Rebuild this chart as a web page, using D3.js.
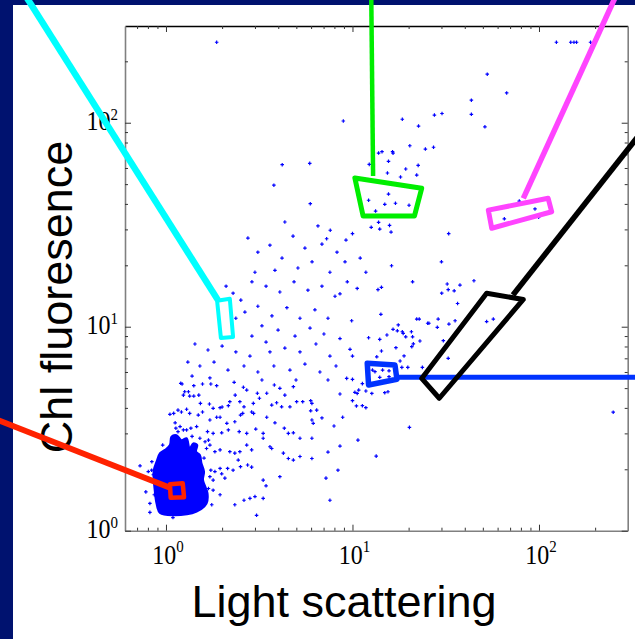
<!DOCTYPE html>
<html>
<head>
<meta charset="utf-8">
<script src="https://cdn.jsdelivr.net/npm/d3@7"></script>
<style>
  html, body { margin: 0; padding: 0; background: #00126f; }
  svg { display: block; }
</style>
</head>
<body>
<svg id="chart"></svg>
<script>
var width = 635, height = 639;

// dense core of the population (outline), [light scattering, chl fluoresence]
var coreOutline = [
  [0.929,1.22],[1.09,1.19],[1.46,1.24],[1.65,1.36],[1.67,1.53],[1.58,1.77],[1.60,1.95],
  [1.55,2.14],[1.52,2.35],[1.45,2.44],[1.47,2.63],[1.40,2.68],[1.34,2.53],[1.29,2.84],
  [1.21,2.78],[1.14,2.94],[1.07,2.89],[1.05,2.63],[0.988,2.49],[0.929,2.40],[0.89,2.18],
  [0.86,1.98],[0.86,1.77],[0.87,1.58],[0.89,1.36]
];

// single events, [light scattering, chl fluoresence]
var scatterPoints = [
  [1.87,248],[124,248],[148,248],[154,248],[159,248],[189,248],
  [52.8,173],[67.1,140],[43.4,129],[43.4,110],[51.3,95.5],[30.2,111],[27.5,109],[18.5,104],[8.93,102],[22.6,96.3],
  [20.3,77.1],[24.6,74.3],[27.2,75.8],[13.8,71.0],[14.4,72.1],[16.4,72.1],[16.5,70.9],[15.6,64.7],[12.3,62.5],
  [22.5,61.8],[19.3,59.3],[15.4,56.7],[18.1,54.2],[22.1,55.4],
  [15.6,44.7],[12.2,41.7],[14.9,39.8],[17.0,40.3],[20.1,39.4],[13.3,36.9],
  [13.8,32.5],[12.6,30.7],[14.0,30.1],[15.8,31.4],[16.1,29.1],[7.60,29.7],[10.0,28.6],[32.8,28.6],[7.27,27.0],[9.23,26.6],
  [78.4,41.3],[95.2,37.8],[65.2,33.8],[99.6,34.4],
  [4.20,62.3],[3.79,49.4],[5.90,63.2],[5.94,40.1],
  [9.38,16.6],[10.6,15.4],[13.7,15.2],[14.3,15.6],[21.0,16.6],[32.2,16.2],[32.6,15.2],[35.1,15.0],[37.7,16.0],
  [30.1,14.6],[44.8,16.8],[8.57,14.5],[36.6,13.0],[14.2,11.5],[9.90,10.7],[22.1,10.9],[22.8,10.9],[25.3,10.4],
  [25.7,10.4],[28.8,10.9],[32.9,10.3],[35.5,10.7],[52.4,10.6],[56.9,10.9],[17.6,10.2],[16.5,9.71],[18.5,9.45],
  [18.7,9.27],[17.4,9.55],[20.7,9.45],[28.5,9.93],[15.3,9.11],[12.2,8.83],[14.0,8.67],[19.3,8.92],[21.0,8.92],
  [8.57,8.75],[23.0,8.51],[20.8,7.98],[21.2,8.24],[9.70,7.75],[17.1,7.89],[14.3,7.60],[30.7,8.54],[10.0,7.18],
  [13.5,7.12],[18.9,7.19],[32.6,7.00],[18.0,6.79],[18.4,6.32],[19.8,6.32],[23.7,6.32],
  [12.8,6.13],[14.5,6.13],[15.7,6.08],[13.2,6.02],[14.0,5.65],[15.7,5.69],[9.31,5.58],[10.0,5.52],[11.3,5.26],
  [10.8,4.89],[10.3,4.77],[10.6,4.71],[11.8,4.84],[12.7,4.71],[14.9,4.75],[15.5,4.80],[8.57,4.68],[10.0,4.34],
  [10.5,4.09],[11.3,4.10],[11.8,4.01],[8.86,3.60],[20.2,3.21],[250,3.81],
  [1.20,5.28],[1.22,5.24],[1.41,5.14],[1.57,5.24],[1.74,5.24],[1.87,5.14],[2.32,5.34],[2.60,5.05],[2.71,4.89],
  [3.09,4.72],[3.47,4.72],[3.81,5.18],[4.08,4.99],[4.34,4.62],[4.82,5.08],[5.97,4.34],[6.06,4.21],[6.43,3.90],
  [1.26,4.80],[1.32,4.80],[1.24,4.62],[1.34,4.57],[1.41,4.57],[1.50,4.62],[1.53,4.21],[1.71,4.18],[1.79,3.98],
  [1.95,4.01],[2.00,4.04],[2.16,4.10],[2.20,4.29],[2.35,4.62],[2.49,4.29],[2.62,4.05],[2.94,4.21],[3.17,4.46],
  [3.69,4.13],[3.92,4.24],[4.62,4.05],[5.02,4.29],[5.41,4.29],[5.97,3.87],
  [1.05,3.72],[1.10,3.76],[1.16,3.90],[1.21,3.82],[1.29,3.94],[1.34,3.76],[1.49,3.69],[1.57,3.82],[1.72,3.49],
  [1.87,3.60],[1.95,3.60],[2.12,3.36],[2.34,3.42],[2.51,3.69],[2.58,3.76],[2.88,3.82],[2.95,3.76],[3.47,3.60],
  [3.84,3.38],[4.31,3.18],[4.53,3.00],[4.82,3.02],[6.06,3.49],[5.23,2.84],
  [1.12,3.38],[1.19,3.24],[1.24,3.12],[1.29,3.12],[1.36,3.18],[1.46,3.24],[1.16,3.06],[1.67,3.06],[1.79,3.00],
  [1.99,3.02],[2.16,3.12],[2.47,3.06],[2.71,3.00],[3.03,3.15],[3.32,3.00],[3.32,2.84],[3.61,2.58],[3.69,2.53],
  [1.52,2.84],[1.62,2.73],[1.69,2.78],[1.72,2.63],[1.65,2.53],[1.83,2.44],[1.95,2.49],[2.20,2.44],[2.34,2.40],
  [2.49,2.44],[2.71,2.63],[2.88,2.49],[2.44,2.22],[2.74,2.10],[2.51,2.06],[2.88,2.05],[2.29,1.98],[1.95,2.02],
  [1.83,1.95],[2.14,2.02],[1.99,1.90],[1.72,1.84],[1.79,1.77],[2.07,1.81],[1.69,1.61],[1.79,1.58],[1.95,1.50],
  [2.62,1.41],[2.82,1.44],[3.00,1.47],[3.32,1.44],[2.34,1.34],[3.06,1.19],[3.32,1.77],[3.44,1.66],[4.08,1.84],
  [4.53,2.26],[4.82,2.22],[6.06,2.26],[5.23,2.31],[4.26,2.40],[6.06,2.84],[6.16,3.36],[4.17,4.05],
  [0.726,2.08],[0.838,1.98],[0.804,1.95],[0.855,1.88],[0.884,1.58],[0.866,1.50],[1.09,1.16],[0.948,1.24],
  // ragged edge of the core
  [0.80,1.77],[0.78,1.55],[0.82,1.36],[0.84,2.18],[0.96,2.63],[1.13,3.18],[1.38,2.90],[1.60,2.27],
  [1.74,1.98],[1.76,1.34],[0.82,1.23],
  // middle of the cloud, between the core and the large cells
  [4.34,32.6],[6.53,31.2],[4.80,27.8],[3.61,25.1],[3.11,23.2],[5.56,24.3],[6.86,25.4],[8.26,23.2],[4.19,21.7],
  [2.75,27.2],[6.07,20.8],[9.12,20.8],[5.10,19.4],[3.84,18.9],[3.00,18.5],[7.57,18.5],[11.0,21.7],[11.8,18.5],
  [2.10,15.8],[2.29,14.6],[2.52,13.5],[2.89,16.6],[3.44,15.8],[4.08,14.8],[4.86,16.6],[5.77,15.1],[6.86,15.8],
  [8.06,14.1],[2.65,11.8],[3.11,12.6],[3.70,11.3],[4.45,12.4],[5.23,11.0],[6.29,12.1],[7.39,11.0],[2.37,11.0],
  [3.27,10.1],[3.99,9.63],[4.92,9.00],[5.92,9.85],[7.03,9.21],[2.89,9.00],[3.44,8.41],
  [1.43,8.23],[1.68,7.69],[2.00,8.04],[2.37,7.52],[2.82,7.18],[3.61,7.52],[4.34,7.86],[5.23,7.52],[6.37,8.23],
  [7.57,7.18],[1.31,6.71],[1.52,6.42],[1.81,6.71],[2.15,6.13],[2.62,6.42],[3.11,6.00],[3.79,6.42],[4.62,6.13],
  [5.56,6.56],[6.69,6.00],[8.16,6.42],[1.38,5.73],[1.72,5.61],[3.27,5.48],[4.98,5.48],[7.39,5.48],
  [16.2,19.9],[30.0,20.8],
  [6.86,3.57],[7.96,3.26],[7.39,2.43],[8.57,2.60],[7.21,1.81],[8.36,1.98],[7.57,1.41],[10.7,2.78],[13.4,2.32]
];

// gates drawn on the cytogram and their leader lines
var cyanGate = [[1.88,13.4],[2.20,13.7],[2.29,8.90],[1.97,8.81]];
var cyanLeader = [[1.90,13.5],[0.169,447]];
var greenGate = [[10.3,53.6],[23.5,47.7],[21.5,34.9],[11.4,34.9]];
var greenLeader = [[12.9,54.8],[12.6,447]];
var magentaGate = [[53.5,37.3],[112,42.6],[117,36.6],[55.8,30.4]];
var magentaLeader = [[82.4,42.6],[267,447]];
var blackGate = [[52.4,14.6],[82.4,13.6],[29.2,4.46],[23.5,5.58]];
var blackLeader = [[72.5,14.3],[370,94.7]];
var blueGate = [[12.0,6.62],[16.9,6.49],[17.3,5.53],[12.2,5.18]];
var blueLeader = [[17.1,5.65],[370,5.65]];
var redGate = [[1.05,1.69],[1.23,1.71],[1.25,1.46],[1.06,1.45]];
var redLeader = [[1.06,1.62],[0.114,3.61]];

var xTicks = [0.7,0.8,0.9,1,2,3,4,5,6,7,8,9,10,20,30,40,50,60,70,80,90,100,200];
var yTicks = [1,2,3,4,5,6,7,8,9,10,20,30,40,50,60,70,80,90,100,200];
var decades = [1, 10, 100];

var svg = d3.select("#chart")
    .attr("width", width)
    .attr("height", height);

svg.append("rect")
    .attr("x", 0).attr("y", 0)
    .attr("width", width).attr("height", height)
    .attr("fill", "#00126f");

// white slide panel
svg.append("rect")
    .attr("x", 13).attr("y", 5)
    .attr("width", width - 13).attr("height", height - 5)
    .attr("fill", "#ffffff");

var x = d3.scaleLog().domain([0.603, 299]).range([125, 627.7]);
var y = d3.scaleLog().domain([1, 298]).range([530.7, 26]);

function isDecade(d) { return decades.indexOf(d) >= 0; }

function styleAxis(g, col, dir, len) {
  g.select(".domain").attr("stroke", col).attr("stroke-width", 1.6);
  g.selectAll(".tick line").attr("stroke", "#333").attr("stroke-width", 1)
    .each(function(d) {
      if (isDecade(d)) d3.select(this).attr(dir, len);
    });
  g.selectAll(".tick text").remove();
}

var plotAxes = svg.append("g").attr("class", "axes");

plotAxes.append("g")
    .attr("transform", "translate(0," + y.range()[0] + ")")
    .call(d3.axisBottom(x).tickValues(xTicks).tickSizeInner(-3).tickSizeOuter(0).tickFormat(""))
    .call(styleAxis, "#808080", "y2", -6);

plotAxes.append("g")
    .attr("transform", "translate(0," + y.range()[1] + ")")
    .call(d3.axisTop(x).tickValues(xTicks).tickSizeInner(-3).tickSizeOuter(0).tickFormat(""))
    .call(styleAxis, "#000000", "y2", 6);

plotAxes.append("g")
    .attr("transform", "translate(" + x.range()[0] + ",0)")
    .call(d3.axisLeft(y).tickValues(yTicks).tickSizeInner(-3).tickSizeOuter(0).tickFormat(""))
    .call(styleAxis, "#808080", "x2", 6);

plotAxes.append("g")
    .attr("transform", "translate(" + x.range()[1] + ",0)")
    .call(d3.axisRight(y).tickValues(yTicks).tickSizeInner(-3).tickSizeOuter(0).tickFormat(""))
    .call(styleAxis, "#808080", "x2", -6);

// tick labels 10^n
function powerLabel(sel, base, supSize, supDy) {
  sel.append("tspan").attr("font-size", base).text("10");
  sel.append("tspan").attr("font-size", supSize).attr("dy", supDy).text(function(d) { return Math.round(Math.log10(d)); });
}

svg.append("g").selectAll("text")
    .data(decades)
    .enter().append("text")
      .attr("transform", function(d) { return "translate(" + (x(d) + 2) + ",564) scale(1,1.1)"; })
      .attr("text-anchor", "middle")
      .attr("font-family", "'Liberation Serif', 'Times New Roman', serif")
      .attr("fill", "#000")
      .call(powerLabel, 24, 15, -11);

svg.append("g").selectAll("text")
    .data(decades)
    .enter().append("text")
      .attr("transform", function(d) { return "translate(118," + (y(d) + 7) + ") scale(1,1.1)"; })
      .attr("text-anchor", "end")
      .attr("font-family", "'Liberation Serif', 'Times New Roman', serif")
      .attr("fill", "#000")
      .call(powerLabel, 24, 15, -9);

// axis titles
svg.append("text")
    .attr("x", 344).attr("y", 617)
    .attr("text-anchor", "middle")
    .attr("font-family", "'Liberation Sans', Arial, sans-serif")
    .attr("font-size", 45)
    .attr("fill", "#000")
    .text("Light scattering");

svg.append("text")
    .attr("transform", "translate(72,297) rotate(-90)")
    .attr("text-anchor", "middle")
    .attr("font-family", "'Liberation Sans', Arial, sans-serif")
    .attr("font-size", 45)
    .attr("fill", "#000")
    .text("Chl fluoresence");

// events
var line = d3.line()
    .x(function(d) { return x(d[0]); })
    .y(function(d) { return y(d[1]); });

svg.append("path")
    .datum(coreOutline)
    .attr("d", line.curve(d3.curveCatmullRomClosed))
    .attr("fill", "#0000ff")
    .attr("stroke", "#0000ff")
    .attr("stroke-width", 2);

var dot = d3.symbol().type(d3.symbolCross).size(7);

svg.append("g")
    .attr("class", "events")
  .selectAll("path")
  .data(scatterPoints)
  .enter().append("path")
    .attr("transform", function(d) { return "translate(" + x(d[0]) + "," + y(d[1]) + ")"; })
    .attr("d", dot)
    .attr("fill", "#0000ff");

// gates + leaders
var gates = [
  { gate: cyanGate, leader: cyanLeader, color: "#00ffff", gw: 4, lw: 6.5 },
  { gate: greenGate, leader: greenLeader, color: "#00ee00", gw: 5, lw: 4.5 },
  { gate: magentaGate, leader: magentaLeader, color: "#ff44ff", gw: 5, lw: 5.5 },
  { gate: blackGate, leader: blackLeader, color: "#000000", gw: 5, lw: 5.5 },
  { gate: blueGate, leader: blueLeader, color: "#0033ff", gw: 5.5, lw: 5 },
  { gate: redGate, leader: redLeader, color: "#ff2200", gw: 4.5, lw: 6 }
];

var straight = d3.line()
    .x(function(d) { return x(d[0]); })
    .y(function(d) { return y(d[1]); });

var gateG = svg.append("g").attr("class", "gates");

gateG.selectAll("path.leader")
  .data(gates)
  .enter().append("path")
    .attr("class", "leader")
    .attr("d", function(d) { return straight(d.leader); })
    .attr("stroke", function(d) { return d.color; })
    .attr("stroke-width", function(d) { return d.lw; })
    .attr("fill", "none");

gateG.selectAll("path.gate")
  .data(gates)
  .enter().append("path")
    .attr("class", "gate")
    .attr("d", function(d) { return straight(d.gate) + "Z"; })
    .attr("stroke", function(d) { return d.color; })
    .attr("stroke-width", function(d) { return d.gw; })
    .attr("stroke-linejoin", "round")
    .attr("fill", "none");
</script>
</body>
</html>
